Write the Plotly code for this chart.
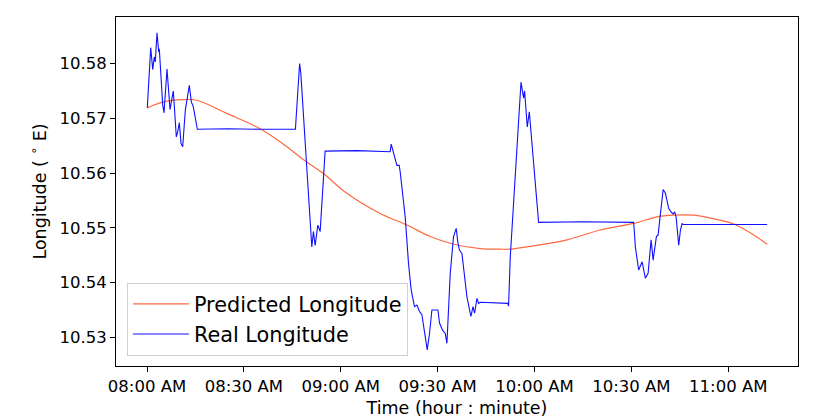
import pandas as pd
import plotly.graph_objects as go

## DATOS (minutos desde 08:00)
t_real = [0.09, 1.15, 1.77, 2.26, 2.57, 3.10, 3.63, 3.81, 4.87, 5.27, 6.20, 7.13, 8.15,
          9.08, 9.51, 10.01, 10.54, 11.06, 11.87, 12.49, 13.11, 13.73, 14.35, 15.59,
          25.0, 35.0, 45.96, 47.26, 47.63, 51.04, 51.54, 52.07, 52.90, 53.62, 54.14,
          54.95, 55.16, 65.0, 75.31, 75.62, 76.33, 77.39, 78.10, 78.41, 79.96, 80.98,
          81.82, 82.84, 83.59, 84.39, 85.14, 85.94, 86.78, 87.49, 88.23, 90.09, 90.59,
          91.52, 92.36, 92.88, 93.91, 94.93, 95.76, 96.29, 96.79, 97.53, 98.34, 99.08,
          99.89, 100.32, 100.94, 101.44, 102.18, 102.68, 103.20, 108.0, 111.70, 111.97,
          112.50, 115.82, 116.63, 116.93, 117.77, 118.39, 119.72, 121.27, 135.0, 150.71,
          151.24, 152.26, 153.32, 154.34, 155.18, 156.11, 156.73, 157.75, 158.28, 158.99,
          159.83, 160.54, 161.56, 162.30, 162.92, 163.42, 163.85, 164.66, 165.19, 165.71,
          166.0, 180.0, 192.05]
lon_real = [10.5719, 10.5829, 10.5789, 10.5812, 10.5803, 10.5856, 10.5821, 10.5827, 10.5724,
            10.5710, 10.5790, 10.5716, 10.5750, 10.5666, 10.5675, 10.5692, 10.5654, 10.5648,
            10.5715, 10.5739, 10.5760, 10.5730, 10.5721, 10.5680, 10.5681, 10.5680, 10.5680,
            10.5800, 10.5782, 10.5465, 10.5493, 10.5468, 10.5505, 10.5493, 10.5545, 10.5639,
            10.5640, 10.5641, 10.5639, 10.5653, 10.5636, 10.5614, 10.5614, 10.5602, 10.5520,
            10.5435, 10.5386, 10.5356, 10.5359, 10.5347, 10.5341, 10.5307, 10.5277, 10.5307,
            10.5350, 10.5350, 10.5326, 10.5313, 10.5307, 10.5289, 10.5417, 10.5484, 10.5499,
            10.5472, 10.5459, 10.5453, 10.5405, 10.5374, 10.5350, 10.5338, 10.5356, 10.5344,
            10.5371, 10.5362, 10.5364, 10.5363, 10.5362, 10.5357, 10.5447, 10.5766, 10.5737,
            10.5750, 10.5684, 10.5712, 10.5624, 10.5510, 10.5511, 10.5510, 10.5465, 10.5423,
            10.5438, 10.5408, 10.5417, 10.5478, 10.5441, 10.5484, 10.5487, 10.5526, 10.5570,
            10.5563, 10.5535, 10.5529, 10.5525, 10.5529, 10.5520, 10.5468, 10.5496, 10.5508,
            10.5506, 10.5506, 10.5506]

t_pred = [0.09, 5.05, 11.25, 15.40, 24.70, 35.02, 41.22, 49.49, 54.64, 61.89, 72.21, 80.49,
          87.71, 94.93, 103.20, 109.40, 112.50, 119.72, 130.07, 140.39, 150.71, 157.97,
          163.11, 169.31, 176.56, 181.71, 187.90, 192.06]
lon_pred = [10.5719, 10.5730, 10.5734, 10.5733, 10.5709, 10.5681, 10.5657, 10.5620, 10.5599,
            10.5563, 10.5526, 10.5505, 10.5484, 10.5470, 10.5462, 10.5461, 10.5461, 10.5467,
            10.5478, 10.5496, 10.5508, 10.5520, 10.5523, 10.5523, 10.5515, 10.5507, 10.5487,
            10.5470]

tick_times = ['08:00', '08:30', '09:00', '09:30', '10:00', '10:30', '11:00']
y_ticks = [10.53, 10.54, 10.55, 10.56, 10.57, 10.58]

base = pd.Timestamp('2023-01-01 08:00:00')
x_real = base + pd.to_timedelta(t_real, unit='min')
x_pred = base + pd.to_timedelta(t_pred, unit='min')
tickvals = [pd.Timestamp('2023-01-01 ' + t) for t in tick_times]

FONT = 'DejaVu Sans'

fig = go.Figure()
fig.add_trace(go.Scatter(x=x_pred, y=lon_pred, mode='lines', name='Predicted Longitude',
                         line=dict(color='#ff6a40', width=1.2, shape='spline')))
fig.add_trace(go.Scatter(x=x_real, y=lon_real, mode='lines', name='Real Longitude',
                         line=dict(color='#1010ff', width=1.1)))

# la pagina tiene 8px de margen en body, se compensa aqui
fig.update_layout(
    width=831, height=419,
    paper_bgcolor='white', plot_bgcolor='white',
    margin=dict(l=108, r=41, t=9, b=61),
    font=dict(family=FONT, color='black'),
    legend=dict(x=0.016, y=0.029, xanchor='left', yanchor='bottom',
                bgcolor='rgba(255,255,255,0.8)', bordercolor='#d0d0d0', borderwidth=1,
                font=dict(size=20.8, family=FONT), itemwidth=56),
)
fig.update_xaxes(
    range=[base - pd.Timedelta(minutes=9.6), base + pd.Timedelta(minutes=201.6)],
    tickvals=tickvals, tickformat='%I:%M %p', tickfont=dict(size=16.5),
    ticks='outside', ticklen=5, tickcolor='black', showgrid=False, zeroline=False,
    showline=True, linecolor='black', linewidth=1, mirror=True,
    title=dict(text='Time (hour : minute)', font=dict(size=17.5), standoff=6),
    automargin=False,
)
fig.update_yaxes(
    range=[10.52476, 10.5885],
    tickvals=y_ticks, tickformat='.2f', tickfont=dict(size=16.5),
    ticks='outside', ticklen=5, tickcolor='black', showgrid=False, zeroline=False,
    showline=True, linecolor='black', linewidth=1, mirror=True,
    title=dict(text='Longitude ( <sup>∘</sup> E)', font=dict(size=17.5), standoff=8),
    automargin=False,
)

fig.write_html("out.html")
